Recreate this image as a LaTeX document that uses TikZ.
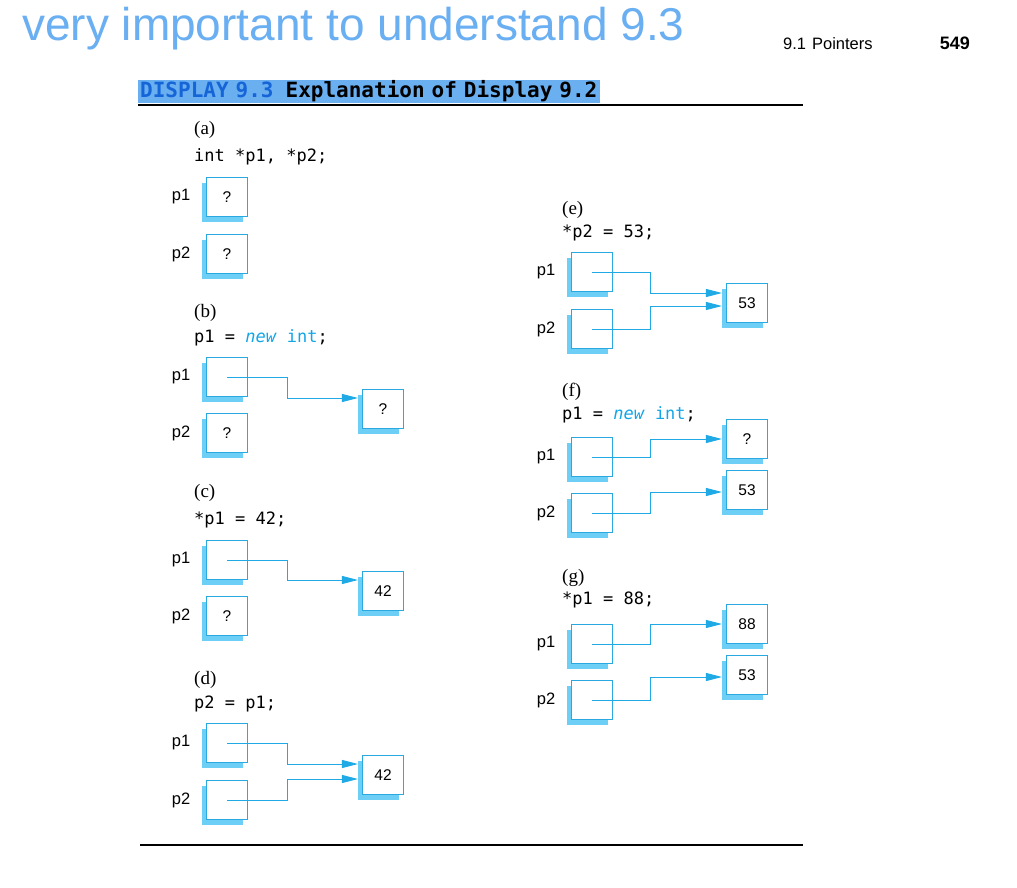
\documentclass[tikz,border=0pt]{standalone}
\usepackage{fontspec}
\setmainfont{Liberation Sans}
\setmonofont{DejaVu Sans Mono}
\newfontfamily\stepfont{Liberation Serif}
\usetikzlibrary{arrows.meta,shadows}
\definecolor{titleblue}{HTML}{6AAFF2}
\definecolor{barblue}{HTML}{6AAFF0}
\definecolor{dispblue}{HTML}{1565D8}
\definecolor{boxblue}{HTML}{2AA8E0}
\definecolor{shadeblue}{HTML}{6DCFF6}
\definecolor{linkblue}{HTML}{1FA9E5}
\definecolor{kwblue}{HTML}{12A5E8}
\begin{document}
\begin{tikzpicture}[x=1pt, y=-1pt, >={Triangle[length=16pt,width=8pt]},
  cell/.style={draw=boxblue, line width=1.1pt, fill=white, minimum width=41pt, minimum height=39pt,
    inner sep=0pt, font=\fontsize{15.5}{17}\selectfont,
    drop shadow={shadow xshift=-5pt, shadow yshift=-5pt, fill=shadeblue, opacity=1}},
  varname/.style={font=\fontsize{16.5}{19}\selectfont},
  code/.style={anchor=west, inner sep=0pt, font=\ttfamily\fontsize{17}{20}\selectfont},
  tag/.style={anchor=west, inner sep=0pt, font=\stepfont\fontsize{19}{22}\selectfont},
  link/.style={->, color=linkblue, line width=0.9pt}]
\fill[white] (0,0) rectangle (1017,888);
\useasboundingbox (0,0) rectangle (1017,888);
% page heading
\node[anchor=base west, inner sep=0pt, text=titleblue, font=\fontsize{46}{52}\selectfont] (title) at (22,41) {very important to understand 9.3};
\node[anchor=base west, inner sep=0pt, font=\fontsize{16.5}{19}\selectfont] (head) at (783,50) {9.1\hspace{6pt}Pointers};
\node[anchor=base east, inner sep=0pt, font=\bfseries\fontsize{18}{20}\selectfont] (page) at (970,50) {549};
\node[fill=barblue, anchor=west, inner xsep=2pt, inner ysep=0pt, text width=458pt, align=left, minimum height=23pt,
  font=\ttfamily\bfseries\fontsize{21}{23}\selectfont] (disp) at (138,91.5) {\textcolor{dispblue}{DISPLAY 9.3}\hspace{12pt}Explanation of Display 9.2};
\draw[line width=1.5pt] (138,105) -- (803,105);
% (a)
\node[tag] (a-tag) at (194,130) {(a)};
\node[code] (a-code) at (194,157) {int *p1, *p2;};
\node[varname] (a-l1) at (181,197) {p1};
\node[cell] (a-p1) at (227,197) {?};
\node[varname] (a-l2) at (181,254) {p2};
\node[cell] (a-p2) at (227,254) {?};
% (b)
\node[tag] (b-tag) at (194,313) {(b)};
\node[code] (b-code) at (194,338) {p1 = \textcolor{kwblue}{\textit{new} int};};
\node[varname] (b-l1) at (181,377) {p1};
\node[cell] (b-p1) at (227,377) {};
\node[varname] (b-l2) at (181,433) {p2};
\node[cell] (b-p2) at (227,433) {?};
\node[cell] (b-v) at (383,409) {?};
\draw[link] (b-p1.center) -- ++(60,0) |- ([xshift=-4pt,yshift=11pt]b-v.west);
% (c)
\node[tag] (c-tag) at (194,493) {(c)};
\node[code] (c-code) at (194,520) {*p1 = 42;};
\node[varname] (c-l1) at (181,560) {p1};
\node[cell] (c-p1) at (227,560) {};
\node[varname] (c-l2) at (181,616) {p2};
\node[cell] (c-p2) at (227,616) {?};
\node[cell] (c-v) at (383,591) {42};
\draw[link] (c-p1.center) -- ++(60,0) |- ([xshift=-4pt,yshift=11pt]c-v.west);
% (d)
\node[tag] (d-tag) at (194,680) {(d)};
\node[code] (d-code) at (194,704) {p2 = p1;};
\node[varname] (d-l1) at (181,743) {p1};
\node[cell] (d-p1) at (227,743) {};
\node[varname] (d-l2) at (181,800) {p2};
\node[cell] (d-p2) at (227,800) {};
\node[cell] (d-v) at (383,775) {42};
\draw[link] (d-p1.center) -- ++(60,0) |- ([xshift=-4pt,yshift=11pt]d-v.west);
\draw[link] (d-p2.center) -- ++(60,0) |- ([xshift=-4pt,yshift=-4pt]d-v.west);
% (e)
\node[tag] (e-tag) at (562,210) {(e)};
\node[code] (e-code) at (562,233) {*p2 = 53;};
\node[varname] (e-l1) at (546,272) {p1};
\node[cell] (e-p1) at (592,272) {};
\node[varname] (e-l2) at (546,329) {p2};
\node[cell] (e-p2) at (592,329) {};
\node[cell] (e-v) at (747,303) {53};
\draw[link] (e-p1.center) -- ++(58,0) |- ([xshift=-4pt,yshift=10pt]e-v.west);
\draw[link] (e-p2.center) -- ++(58,0) |- ([xshift=-4pt,yshift=-3pt]e-v.west);
% (f)
\node[tag] (f-tag) at (562,392) {(f)};
\node[code] (f-code) at (562,415) {p1 = \textcolor{kwblue}{\textit{new} int};};
\node[varname] (f-l1) at (546,457) {p1};
\node[cell] (f-p1) at (592,457) {};
\node[varname] (f-l2) at (546,513) {p2};
\node[cell] (f-p2) at (592,513) {};
\node[cell] (f-v1) at (747,439) {?};
\node[cell] (f-v2) at (747,490) {53};
\draw[link] (f-p1.center) -- ++(58,0) |- ([xshift=-4pt]f-v1.west);
\draw[link] (f-p2.center) -- ++(58,0) |- ([xshift=-4pt,yshift=-2pt]f-v2.west);
% (g)
\node[tag] (g-tag) at (562,578) {(g)};
\node[code] (g-code) at (562,600) {*p1 = 88;};
\node[varname] (g-l1) at (546,644) {p1};
\node[cell] (g-p1) at (592,644) {};
\node[varname] (g-l2) at (546,700) {p2};
\node[cell] (g-p2) at (592,700) {};
\node[cell] (g-v1) at (747,624) {88};
\node[cell] (g-v2) at (747,675) {53};
\draw[link] (g-p1.center) -- ++(58,0) |- ([xshift=-4pt]g-v1.west);
\draw[link] (g-p2.center) -- ++(58,0) |- ([xshift=-4pt,yshift=-2pt]g-v2.west);
\draw[line width=1.2pt] (140,845) -- (803,845);
\end{tikzpicture}
\end{document}
